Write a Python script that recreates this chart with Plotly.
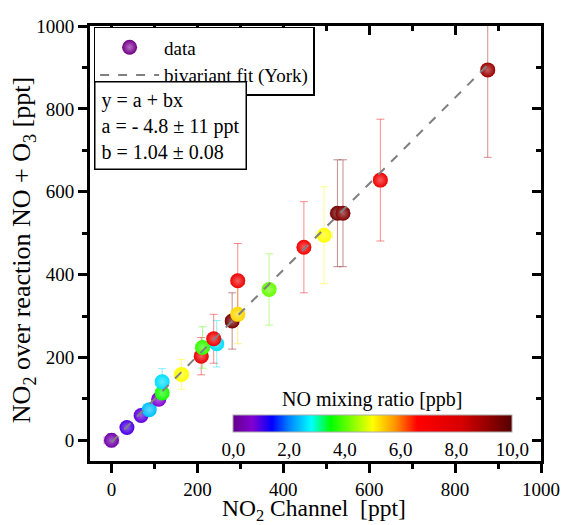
import plotly.graph_objects as go

# NO2 comparison: conventional channel vs. NO + O3 reaction, coloured by NO mixing ratio
no2_channel = [0, 36, 69, 88, 110, 118, 118, 163, 209, 212, 245, 238, 281, 294, 294, 367, 448, 495, 526, 539, 626, 876]
no2_reaction = [0, 31, 60, 74, 99, 114, 141, 159, 203, 224, 233, 245, 288, 304, 385, 364, 466, 495, 548, 548, 628, 894]
no2_channel_err = [17, 12, 12, 12, 15, 15, 15, 17, 15, 15, 15, 15, 15, 15, 15, 15, 15, 19, 15, 15, 15, 15]
no2_reaction_err = [16, 10, 10, 12, 15, 20, 32, 36, 45, 50, 56, 59, 68, 71, 90, 86, 110, 117, 129, 129, 147, 211]
no_ratio = [0.3, 1.0, 0.9, 2.4, 0.7, 3.6, 2.6, 5.0, 7.5, 3.8, 2.6, 7.2, 9.5, 5.3, 7.3, 4.1, 7.0, 5.0, 9.6, 9.4, 7.2, 9.0]

# York bivariate fit parameters
fit_a = -4.8
fit_b = 1.04
fit_x = [0, 880]

axis_ticks = [0, 200, 400, 600, 800, 1000]
axis_minor = [100, 300, 500, 700, 900]
cbar_ticks = [0, 2, 4, 6, 8, 10]
cbar_ticktext = ["0,0", "2,0", "4,0", "6,0", "8,0", "10,0"]

SERIF = "Liberation Serif, Times New Roman, serif"

rainbow = [
    (0.00, (100, 0, 140)),
    (0.07, (130, 0, 210)),
    (0.14, (0, 0, 255)),
    (0.20, (0, 128, 255)),
    (0.28, (0, 255, 255)),
    (0.35, (0, 255, 0)),
    (0.50, (255, 255, 0)),
    (0.58, (255, 150, 0)),
    (0.66, (255, 0, 0)),
    (0.82, (215, 0, 0)),
    (1.00, (85, 0, 0)),
]
colorscale = [[s, "rgb(%d,%d,%d)" % c] for s, c in rainbow]


def scale_rgb(v, vmin=0.0, vmax=10.0):
    t = min(max((v - vmin) / (vmax - vmin), 0.0), 1.0)
    for (s0, c0), (s1, c1) in zip(rainbow[:-1], rainbow[1:]):
        if s0 <= t <= s1:
            f = 0 if s1 == s0 else (t - s0) / (s1 - s0)
            return tuple(c0[i] + f * (c1[i] - c0[i]) for i in range(3))
    return rainbow[-1][1]


def rgba(c, a):
    return "rgba(%d,%d,%d,%.2f)" % (int(c[0]), int(c[1]), int(c[2]), a)


def lighten(c, f):
    return tuple(ch + (255 - ch) * f for ch in c)


fig = go.Figure()

# individual error bars, tinted with the point colour
for xv, yv, ex, ey, nv in zip(no2_channel, no2_reaction, no2_channel_err, no2_reaction_err, no_ratio):
    col = scale_rgb(nv)
    fig.add_trace(go.Scatter(
        x=[xv], y=[yv], mode="markers",
        marker=dict(size=1, opacity=0),
        error_x=dict(type="data", array=[ex], color=rgba(col, 0.45), thickness=1, width=4),
        error_y=dict(type="data", array=[ey], color=rgba(col, 0.45), thickness=1, width=4),
        showlegend=False, hoverinfo="skip",
    ))

# legend entry for the data spheres
fig.add_trace(go.Scatter(
    x=[None], y=[None], mode="markers", name="data",
    marker=dict(size=15, color="rgb(110,0,130)",
                gradient=dict(type="radial", color="rgb(185,110,200)"), line=dict(width=0)),
))

# data points coloured by NO mixing ratio
fig.add_trace(go.Scatter(
    x=no2_channel, y=no2_reaction, mode="markers", showlegend=False,
    marker=dict(
        size=15, color=no_ratio, cmin=0, cmax=10, colorscale=colorscale,
        gradient=dict(type="radial", color=[rgba(lighten(scale_rgb(v), 0.38), 1) for v in no_ratio]),
        line=dict(width=0),
        colorbar=dict(
            orientation="h", x=0.627, xanchor="center", y=0.017, yanchor="bottom",
            len=0.618, lenmode="fraction", thickness=17, thicknessmode="pixels",
            xpad=0, ypad=0, outlinewidth=1, outlinecolor="#aaaaaa",
            tickvals=cbar_ticks, ticktext=cbar_ticktext, ticks="", ticklen=0,
            tickfont=dict(family=SERIF, size=19, color="black"),
        ),
    ),
))

# bivariate fit line
fig.add_trace(go.Scatter(
    x=fit_x, y=[fit_a + fit_b * v for v in fit_x], mode="lines",
    name="bivariant fit (York)", xaxis="x2", yaxis="y2",
    line=dict(color="#808080", width=2, dash="dash"),
))

main_axis = dict(
    range=[-50, 1000], showgrid=False, zeroline=False, automargin=False,
    showline=True, mirror=True, linecolor="black", linewidth=3,
    tickvals=axis_ticks, ticks="outside", ticklen=9, tickwidth=2.5, tickcolor="black",
    minor=dict(tickvals=axis_minor, ticks="outside", ticklen=5, tickwidth=2.5, tickcolor="black"),
    tickfont=dict(family=SERIF, size=19, color="black"),
)
inner_axis = dict(
    range=[-50, 1000], showgrid=False, zeroline=False, automargin=False,
    showline=False, showticklabels=False,
    tickvals=axis_ticks, ticks="inside", ticklen=9, tickwidth=2.5, tickcolor="black",
    minor=dict(tickvals=axis_minor, ticks="inside", ticklen=5, tickwidth=2.5, tickcolor="black"),
)

fig.update_layout(
    width=561, height=525,
    margin=dict(l=89.5, r=20, t=26, b=64),
    paper_bgcolor="white", plot_bgcolor="white",
    font=dict(family=SERIF, color="black"),
    xaxis=main_axis,
    yaxis=main_axis,
    xaxis2=dict(inner_axis, overlaying="x", side="top", anchor="y2"),
    yaxis2=dict(inner_axis, overlaying="y", side="right", anchor="x2"),
    legend=dict(
        x=0.008, y=0.998, xanchor="left", yanchor="top",
        bgcolor="white", bordercolor="black", borderwidth=1.5,
        font=dict(family=SERIF, size=19, color="black"),
        itemwidth=59, tracegroupgap=0,
    ),
    annotations=[
        # fit parameters box
        dict(
            xref="paper", yref="paper", x=0.008, y=0.874, xanchor="left", yanchor="top",
            text="y = a + bx<br>a = - 4.8 ± 11 ppt<br>b = 1.04 ± 0.08",
            align="left", showarrow=False,
            font=dict(family=SERIF, size=20, color="black"),
            bgcolor="white", bordercolor="black", borderwidth=1.5, borderpad=6,
        ),
        # colour bar title
        dict(
            xref="paper", yref="paper", x=0.627, y=0.1425, xanchor="center", yanchor="middle",
            text="NO mixing ratio [ppb]", showarrow=False,
            font=dict(family=SERIF, size=20, color="black"),
        ),
        # axis titles
        dict(
            xref="paper", yref="paper", x=0.496, y=-0.1126, xanchor="center", yanchor="middle",
            text="NO<sub>2</sub> Channel&nbsp; [ppt]", showarrow=False,
            font=dict(family=SERIF, size=23.5, color="black"),
        ),
        dict(
            xref="paper", yref="paper", x=-0.147, y=0.484, xanchor="center", yanchor="middle",
            text="NO<sub>2</sub> over reaction NO + O<sub>3</sub> [ppt]", showarrow=False,
            textangle=-90, font=dict(family=SERIF, size=26, color="black"),
        ),
    ],
)

fig.write_html("out.html")
